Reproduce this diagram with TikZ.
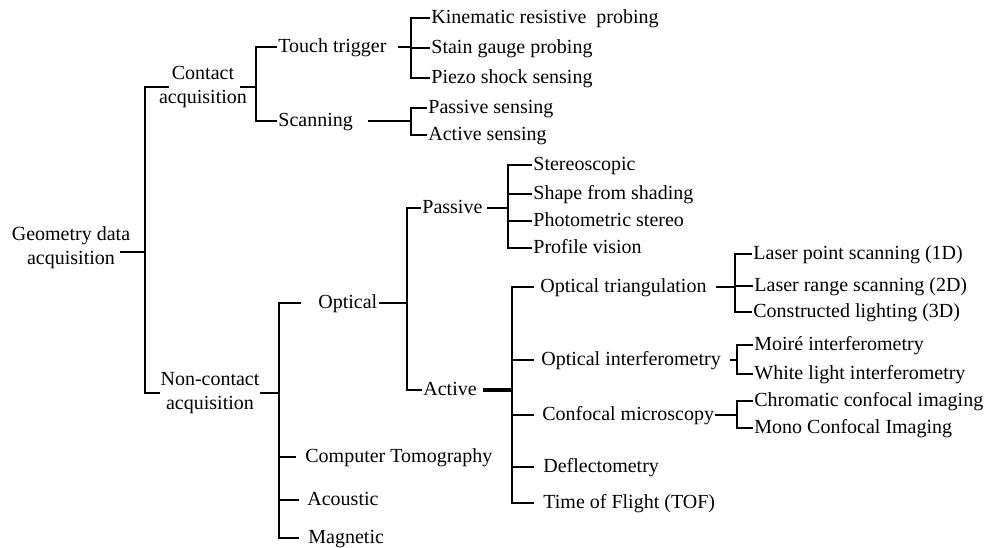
\documentclass[tikz,border=0pt]{standalone}
\usepackage{fontspec}
\setmainfont{Liberation Serif}
\usepackage{tikz}

\begin{document}
\begin{tikzpicture}[x=0.5pt, y=-0.5pt,
          lbl/.style={font=\fontsize{10}{12}\selectfont, inner xsep=0.5pt, inner ysep=0pt, text height=7pt, text depth=2pt, anchor=west},
          two/.style={font=\fontsize{10}{12}\selectfont, inner sep=0pt, align=center, anchor=center},
          ln/.style={line width=0.9pt},
        ]
        \useasboundingbox (0,0) rectangle (986,547);
        % first levels
        \node[two] (geo)   at (71,248)  {Geometry data\\acquisition};
        \node[two] (cont)  at (203,87)  {Contact\\acquisition};
        \node[two] (ncont) at (210,393) {Non-contact\\acquisition};
        % contact branch
        \node[lbl] (touch) at (277,47)  {Touch trigger};
        \node[lbl] (scan)  at (277,121) {Scanning};
        \node[lbl] (kin)   at (430,18)  {Kinematic resistive\ \ probing};
        \node[lbl] (stain) at (430,48)  {Stain gauge probing};
        \node[lbl] (piezo) at (430,78)  {Piezo shock sensing};
        \node[lbl] (psens) at (427,108) {Passive sensing};
        \node[lbl] (asens) at (427,135) {Active sensing};
        % non-contact branch
        \node[lbl] (opt)   at (317,303) {Optical};
        \node[lbl] (ct)    at (304,457) {Computer Tomography};
        \node[lbl] (acou)  at (306,500) {Acoustic};
        \node[lbl] (magn)  at (307,538) {Magnetic};
        \node[lbl] (pas)   at (421,208) {Passive};
        \node[lbl] (act)   at (422,390) {Active};
        \node[lbl] (stereo) at (532,165) {Stereoscopic};
        \node[lbl] (shade) at (532,194) {Shape from shading};
        \node[lbl] (photo) at (532,221) {Photometric stereo};
        \node[lbl] (prof)  at (532,248) {Profile vision};
        \node[lbl] (otri)  at (539,287) {Optical triangulation};
        \node[lbl] (oint)  at (540,360) {Optical interferometry};
        \node[lbl] (conf)  at (541,415) {Confocal microscopy};
        \node[lbl] (defl)  at (542,467) {Deflectometry};
        \node[lbl] (tof)   at (542,503) {Time of Flight (TOF)};
        \node[lbl] (lpt)   at (752,254) {Laser point scanning (1D)};
        \node[lbl] (lrg)   at (753,286) {Laser range scanning (2D)};
        \node[lbl] (clt)   at (752,312) {Constructed lighting (3D)};
        \node[lbl] (moire) at (753,345) {Moiré interferometry};
        \node[lbl] (white) at (753,374) {White light interferometry};
        \node[lbl] (chrom) at (753,401) {Chromatic confocal imaging};
        \node[lbl] (mono)  at (753,428) {Mono Confocal Imaging};
        % junctions
        \coordinate (jgeo)  at (145,252);
        \coordinate (jcont) at (256,88);
        \coordinate (jtouch) at (411,48);
        \coordinate (jscan) at (411,122);
        \coordinate (jnc)   at (279,392);
        \coordinate (jopt)  at (407,303);
        \coordinate (jpas)  at (508,208);
        \coordinate (jact)  at (512,390);
        \coordinate (jtri)  at (735,287);
        \coordinate (jint)  at (737,361);
        \coordinate (jconf) at (737,415);
        % brackets
        \draw[ln] ([xshift=-5.5pt,yshift=-2pt]geo.east) -- (jgeo);
        \draw[ln] ([xshift=5pt]cont.west) -| (jgeo) |- (ncont.west);
        \draw[ln] ([xshift=-3.5pt]cont.east) -- (cont.east -| jcont);
        \draw[ln] (touch.west) -| (jcont) |- (scan.west);
        \draw[ln] ([xshift=5pt]touch.east) -- (touch.east -| jtouch);
        \draw[ln] (kin.west) -| (jtouch) |- (piezo.west);
        \draw[ln] (stain.west) -- (stain.west -| jtouch);
        \draw[ln] ([xshift=7pt]scan.east) -- (scan.east -| jscan);
        \draw[ln] (psens.west) -| (jscan) |- (asens.west);
        \draw[ln] (ncont.east) -- (ncont.east -| jnc);
        \draw[ln] ([xshift=-8pt]opt.west) -| (jnc) |- ([xshift=-4pt]magn.west);
        \draw[ln] ([xshift=-4pt]ct.west) -- (ct.west -| jnc);
        \draw[ln] ([xshift=-3.5pt]acou.west) -- (acou.west -| jnc);
        \draw[ln] (opt.east) -- (opt.east -| jopt);
        \draw[ln] (pas.west) -| (jopt) |- (act.west);
        \draw[ln] ([xshift=1.5pt]pas.east) -- (pas.east -| jpas);
        \draw[ln] (stereo.west) -| (jpas) |- (prof.west);
        \draw[ln] (shade.west) -- (shade.west -| jpas);
        \draw[ln] (photo.west) -- (photo.west -| jpas);
        \draw[ln, line width=1.6pt] ([xshift=2.5pt]act.east) -- (act.east -| jact);
        \draw[ln] ([xshift=-2.5pt]otri.west) -| (jact) |- ([xshift=-4pt]tof.west);
        \draw[ln] ([xshift=-3pt]oint.west) -- (oint.west -| jact);
        \draw[ln] ([xshift=-3.5pt]conf.west) -- (conf.west -| jact);
        \draw[ln] ([xshift=-4pt]defl.west) -- (defl.west -| jact);
        \draw[ln] ([xshift=4pt]otri.east) -- (otri.east -| jtri);
        \draw[ln] (lpt.west) -| (jtri) |- (clt.west);
        \draw[ln] (lrg.west) -- (lrg.west -| jtri);
        \draw[ln] ([xshift=4pt]oint.east) -- (oint.east -| jint);
        \draw[ln] (moire.west) -| (jint) |- (white.west);
        \draw[ln] (conf.east) -- (conf.east -| jconf);
        \draw[ln] (chrom.west) -| (jconf) |- (mono.west);
        \end{tikzpicture}
\end{document}
